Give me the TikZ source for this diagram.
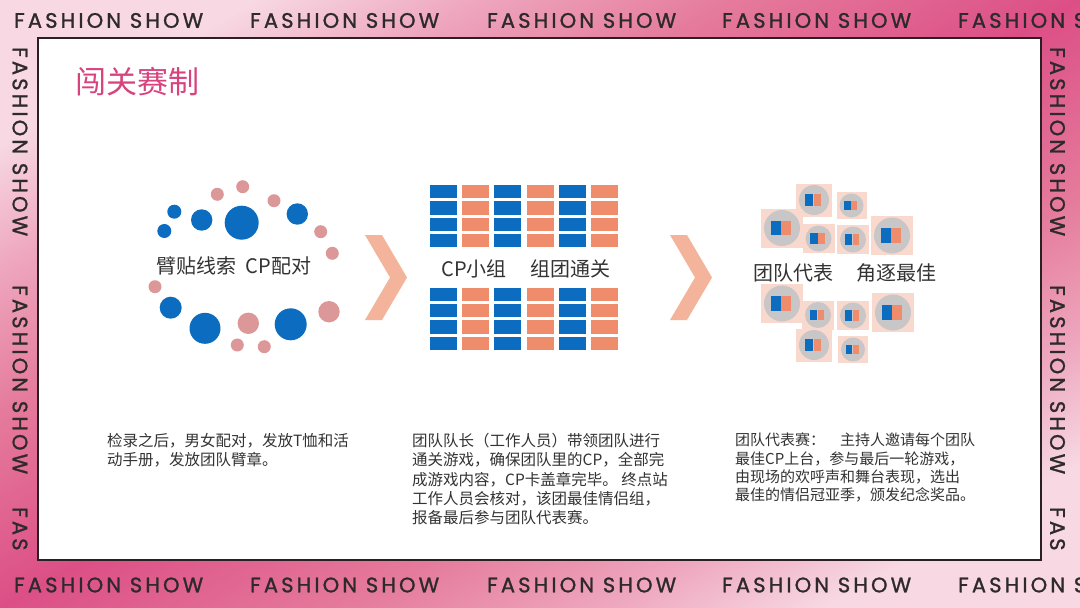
\documentclass[tikz,border=0pt]{standalone}
\usepackage{fontspec}
\newfontfamily\cjk{Noto Sans CJK SC}
\newfontfamily\bannerfont[LetterSpace=15,FakeBold=1.2]{Poppins}
\definecolor{cpblue}{HTML}{0C6CBF}
\definecolor{cppink}{HTML}{DC9898}
\definecolor{cporange}{HTML}{EE8C6B}
\definecolor{chev}{HTML}{F4B49C}
\definecolor{sqbg}{HTML}{F9D9CE}
\definecolor{disk}{HTML}{C8C6C7}
\definecolor{titlepink}{HTML}{D8437E}
\definecolor{bodyink}{HTML}{333333}
\definecolor{framec}{HTML}{2A2024}
\definecolor{bannerink}{HTML}{2E2A2C}
\definecolor{bgl}{HTML}{F7D8E3}
\definecolor{bgs}{HTML}{EEA6BE}
\definecolor{bgq}{HTML}{E57B9C}
\definecolor{bgm}{HTML}{DC4F86}
\pgfdeclareverticalshading{bgshade}{100bp}{color(0bp)=(bgl); color(24bp)=(bgl); color(31bp)=(bgs); color(39bp)=(bgq); color(50bp)=(bgm); color(61bp)=(bgq); color(69bp)=(bgs); color(76bp)=(bgl); color(100bp)=(bgl)}
\begin{document}
\begin{tikzpicture}[x=1pt,y=-1pt,
  banner/.style={font=\bannerfont\fontsize{21}{21}\selectfont, text=bannerink, inner sep=0pt, anchor=west},
  vbanner/.style={banner, rotate=-90},
  dotblue/.style={fill=cpblue},
  dotpink/.style={fill=cppink},
  cellblue/.style={fill=cpblue},
  cellorange/.style={fill=cporange},
  chevron/.style={fill=chev},
  panellabel/.style={font=\cjk\fontsize{20}{24}\selectfont, text=bodyink, inner sep=0pt},
  bodyblock/.style={font=\cjk\fontsize{15.5}{19.3}\selectfont, text=bodyink, inner sep=0pt, align=left, anchor=north west},
  sqback/.style={fill=sqbg},
  diskfill/.style={fill=disk},
]
\clip (0,0) rectangle (1080,608);
% background
\shade[shading=bgshade, shading angle=29.4] (0,0) rectangle (1080,608);
% banners
\foreach \x [count=\i] in {14,250,487,722,958} {
  \node[banner] (top\i) at (\x,20.5) {FASHION SHOW};
  \node[banner] (bot\i) at (\x,585) {FASHION SHOW};
}
\node[vbanner] (left1) at (20,47) {FASHION SHOW};
\node[vbanner] (left2) at (20,285) {FASHION SHOW};
\node[vbanner] (left3) at (20,507) {FAS};
\node[vbanner] (right1) at (1057.5,47) {FASHION SHOW};
\node[vbanner] (right2) at (1057.5,285) {FASHION SHOW};
\node[vbanner] (right3) at (1057.5,507) {FAS};
% frame
\draw[framec, line width=1.8pt, fill=white] (38,38) rectangle (1041,560);
% title
\node[font=\cjk\fontsize{31}{31}\selectfont, text=titlepink, anchor=west, inner sep=0pt] (title) at (75,82) {闯关赛制};
% left cluster
\foreach \cx/\cy/\r in {241.7/222.7/17, 201.7/220/10.7, 174.3/211.7/7, 164.3/231/7, 297.3/214/10.7, 170.7/307.7/11, 205/328.3/15.5, 290.7/324.3/16}
  \fill[dotblue] (\cx,\cy) circle[radius=\r pt];
\foreach \cx/\cy/\r in {217.3/194.3/6.5, 242.7/186.7/6.5, 274/200.7/6.5, 320.7/231.7/6.5, 332.3/253.3/6.5, 155/286.7/6.5, 248.3/323.3/10.7, 329/311.7/10.7, 237.3/345/6.5, 264.3/346.7/6.5}
  \fill[dotpink] (\cx,\cy) circle[radius=\r pt];
\node[panellabel] (lab1) at (234,266) {臂贴线索\hspace{0.45em}CP配对};
% chevrons
\fill[chevron] (365,235) -- (382,235) -- (407,277.5) -- (382,320) -- (365,320) -- (390,277.5) -- cycle;
\fill[chevron] (670,235) -- (687,235) -- (712,277.5) -- (687,320) -- (670,320) -- (695,277.5) -- cycle;
% middle grid
\foreach \i in {0,...,5} {
  \foreach \j in {0,...,3} {
    \pgfmathsetmacro{\xa}{430+32.2*\i}
    \pgfmathsetmacro{\ya}{185+16.35*\j}
    \pgfmathsetmacro{\yb}{287.7+16.35*\j}
    \ifodd\i
      \fill[cellorange] (\xa,\ya) rectangle ++(27,13.3);
      \fill[cellorange] (\xa,\yb) rectangle ++(27,13.3);
    \else
      \fill[cellblue] (\xa,\ya) rectangle ++(27,13.3);
      \fill[cellblue] (\xa,\yb) rectangle ++(27,13.3);
    \fi
  }
}
\node[panellabel] (lab2) at (526,269.3) {CP小组\hspace{1.2em}组团通关};
% right cluster
\foreach \cx/\cy/\r in {814/200/15, 851.5/205.5/12, 782/228/18, 818.5/238.5/13, 853/239.5/13, 892/235.5/18, 782/303.5/18, 818/315/13, 853/315.5/13, 893/312.5/18, 814/345/15, 853/349.5/12} {
  \fill[sqback] (\cx-\r-3,\cy-\r-1.5) rectangle (\cx+\r+3,\cy+\r+1.5);
  \fill[diskfill] (\cx,\cy) circle[radius=\r pt];
  \fill[cellblue] (\cx-0.62*\r,\cy-0.4*\r) rectangle (\cx-0.07*\r,\cy+0.4*\r);
  \fill[cellorange] (\cx-0.03*\r,\cy-0.4*\r) rectangle (\cx+0.48*\r,\cy+0.4*\r);
}
\node[panellabel] (lab3) at (845,273.3) {团队代表\hspace{1.2em}角逐最佳};
% descriptions
\node[bodyblock] (desc1) at (107,433) {检录之后，男女配对，发放T恤和活\\动手册，发放团队臂章。};
\node[bodyblock] (desc2) at (412,433) {团队队长（工作人员）带领团队进行\\通关游戏，确保团队里的CP，全部完\\成游戏内容，CP卡盖章完毕。 终点站\\工作人员会核对，该团最佳情侣组，\\报备最后参与团队代表赛。};
\node[bodyblock, font=\cjk\fontsize{15}{18.2}\selectfont] (desc3) at (735,433) {团队代表赛：\hspace{1em}主持人邀请每个团队\\最佳CP上台，参与最后一轮游戏，\\由现场的欢呼声和舞台表现，选出\\最佳的情侣冠亚季，颁发纪念奖品。};
\end{tikzpicture}
\end{document}
